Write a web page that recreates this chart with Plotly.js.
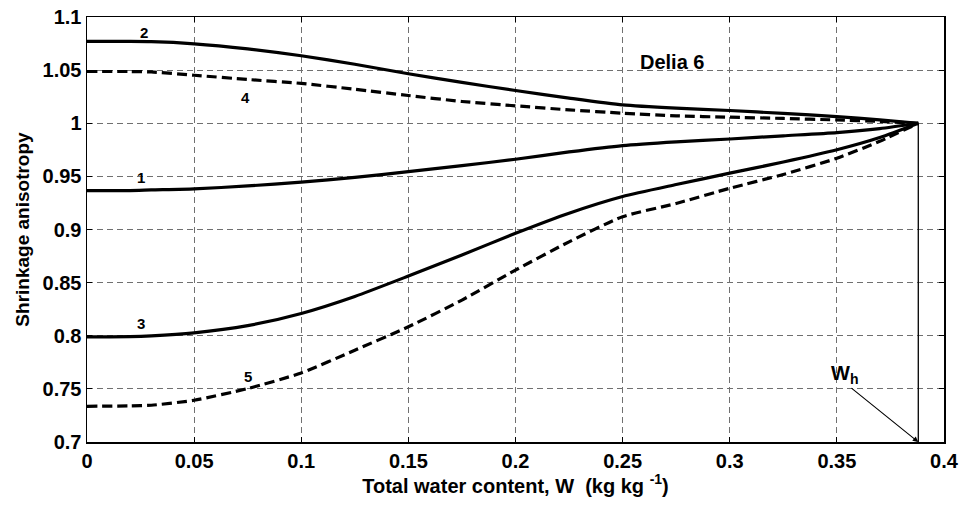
<!DOCTYPE html>
<html>
<head>
<meta charset="utf-8">
<script src="https://cdn.plot.ly/plotly-3.0.1.min.js"></script>
<style>html,body{margin:0;padding:0;background:#fff;}#chart{width:966px;height:511px;}</style>
</head>
<body>
<div id="chart"></div>
<script>
// Water content (kg/kg)
const waterContent = [0, 0.02, 0.03, 0.05, 0.075, 0.1, 0.125, 0.15, 0.175, 0.2, 0.225, 0.25, 0.275, 0.3, 0.325, 0.35, 0.37, 0.388];
// Shrinkage anisotropy curves 1..5
const curve1 = [0.9366, 0.9366, 0.9372, 0.9382, 0.9410, 0.9445, 0.9490, 0.9545, 0.9601, 0.9661, 0.9730, 0.9790, 0.9825, 0.9852, 0.9882, 0.9912, 0.9950, 1.0];
const curve2 = [1.077, 1.077, 1.0768, 1.0748, 1.0700, 1.0635, 1.0555, 1.0466, 1.0385, 1.0308, 1.0237, 1.0173, 1.0142, 1.0120, 1.0092, 1.0063, 1.0032, 1.0];
const curve3 = [0.799, 0.7992, 0.7999, 0.8027, 0.8095, 0.8210, 0.8370, 0.8562, 0.8760, 0.8964, 0.9153, 0.9310, 0.9423, 0.9530, 0.9635, 0.9750, 0.9865, 1.0];
const curve4 = [1.0487, 1.0487, 1.0483, 1.0452, 1.0412, 1.0375, 1.0320, 1.0261, 1.0205, 1.0164, 1.0126, 1.0095, 1.0070, 1.0057, 1.0045, 1.0031, 1.0018, 1.0];
const curve5 = [0.7336, 0.7340, 0.7346, 0.7393, 0.7503, 0.7650, 0.7864, 0.8084, 0.8336, 0.8618, 0.8884, 0.9120, 0.9245, 0.9388, 0.9518, 0.9671, 0.9830, 1.0];
// Wh vertical marker
const whX = [0.388, 0.388];
const whY = [1.0, 0.7];
// Curve labels
const labelText = ['1', '2', '3', '4', '5'];
const labelX = [0.0254, 0.0265, 0.0254, 0.0741, 0.0752];
const labelY = [0.9492, 1.0855, 0.8111, 1.0247, 0.7617];
// Tick labels
const xTickVals = [0, 0.05, 0.1, 0.15, 0.2, 0.25, 0.3, 0.35, 0.4];
const xTickText = ['0', '0.05', '0.1', '0.15', '0.2', '0.25', '0.3', '0.35', '0.4'];
const yTickVals = [0.7, 0.75, 0.8, 0.85, 0.9, 0.95, 1.0, 1.05, 1.1];
const yTickText = ['0.7', '0.75', '0.8', '0.85', '0.9', '0.95', '1', '1.05', '1.1'];

const FONT = 'Liberation Sans, Arial, Helvetica, sans-serif';

function line(y, dash) {
  return {
    x: waterContent, y: y, type: 'scatter', mode: 'lines',
    line: {color: '#000', width: 3.2, dash: dash, shape: 'spline', smoothing: 0.6},
    hoverinfo: 'skip', showlegend: false
  };
}

const traces = [
  line(curve1, 'solid'),
  line(curve2, 'solid'),
  line(curve3, 'solid'),
  line(curve4, '10px,5px'),
  line(curve5, '10px,5px'),
  {x: whX, y: whY, type: 'scatter', mode: 'lines', line: {color: '#000', width: 1.3}, showlegend: false, hoverinfo: 'skip'}
];

const annotations = labelText.map((t, i) => ({
  x: labelX[i], y: labelY[i], xref: 'x', yref: 'y', text: t, showarrow: false,
  font: {family: FONT, size: 15, color: '#000', weight: 'bold'}
}));
annotations.push({
  x: 0.2732, y: 1.0574, xref: 'x', yref: 'y', text: 'Delia 6', showarrow: false,
  font: {family: FONT, size: 20, color: '#000', weight: 'bold'}
});
annotations.push({
  x: 0.388, y: 0.7, xref: 'x', yref: 'y', ax: 0.3561, ay: 0.7518, axref: 'x', ayref: 'y',
  text: '', showarrow: true, arrowhead: 2, arrowsize: 1, arrowwidth: 1.1, arrowcolor: '#000'
});
annotations.push({
  x: 0.3535, y: 0.7635, xref: 'x', yref: 'y', text: 'W<sub>h</sub>', showarrow: false,
  font: {family: FONT, size: 20, color: '#000', weight: 'bold'}
});

const axisCommon = {
  showline: true, linecolor: '#000', linewidth: 1.5, mirror: 'allticks',
  ticks: 'inside', ticklen: 5, tickcolor: '#000', tickwidth: 1,
  showgrid: true, gridcolor: '#707070', gridwidth: 1, griddash: '6px,4px',
  zeroline: false, tickfont: {family: FONT, size: 20, color: '#000', weight: 'bold'}
};

const layout = {
  width: 966, height: 511,
  margin: {l: 87, r: 22, t: 17, b: 69},
  paper_bgcolor: '#fff', plot_bgcolor: '#fff',
  font: {family: FONT, color: '#000'},
  xaxis: Object.assign({}, axisCommon, {
    range: [0, 0.4], tickmode: 'array', tickvals: xTickVals, ticktext: xTickText,
    title: {text: 'Total water content, W  (kg kg <sup>-1</sup>)', font: {family: FONT, size: 20, color: '#000', weight: 'bold'}, standoff: 6}
  }),
  yaxis: Object.assign({}, axisCommon, {
    range: [0.7, 1.1], tickmode: 'array', tickvals: yTickVals, ticktext: yTickText,
    title: {text: 'Shrinkage anisotropy', font: {family: FONT, size: 19, color: '#000', weight: 'bold'}, standoff: 8}
  }),
  annotations: annotations,
  showlegend: false
};

Plotly.newPlot('chart', traces, layout, {displayModeBar: false, staticPlot: true});
</script>
</body>
</html>
